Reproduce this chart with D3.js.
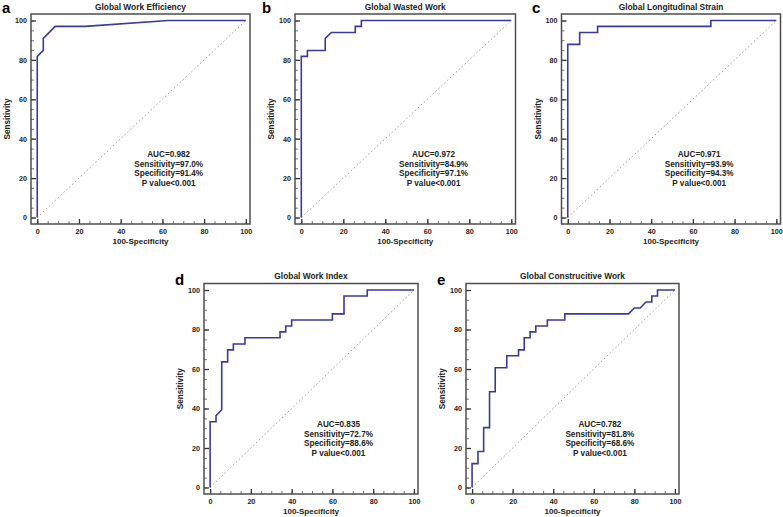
<!DOCTYPE html>
<html><head><meta charset="utf-8">
<script src="https://cdn.jsdelivr.net/npm/d3@7"></script>
<style>
html,body{margin:0;padding:0;background:#fff;}
svg{display:block;font-family:"Liberation Sans",Arial,sans-serif;}
</style></head>
<body>
<svg id="chart" width="783" height="517"></svg>
<script>
// ---- data ----
const panelLetters = ["a","b","c","d","e"];
const panelTitles = ["Global Work Efficiency","Global Wasted Work","Global Longitudinal Strain","Global Work Index","Global Construcitive Work"];
const aucTexts = ["AUC=0.982","AUC=0.972","AUC=0.971","AUC=0.835","AUC=0.782"];
const sensTexts = ["Sensitivity=97.0%","Sensitivity=84.9%","Sensitivity=93.9%","Sensitivity=72.7%","Sensitivity=81.8%"];
const specTexts = ["Specificity=91.4%","Specificity=97.1%","Specificity=94.3%","Specificity=88.6%","Specificity=68.6%"];
const pTexts = ["P value<0.001","P value<0.001","P value<0.001","P value<0.001","P value<0.001"];
const xTicks = [0,20,40,60,80,100];
const yTicks = [0,20,40,60,80,100];
const xLabel = "100-Specificity";
const yLabel = "Sensitivity";

const gweX = [0,0,2.9,2.9,8.6,22.9,62.9,100];
const gweY = [0,81.8,84.8,90.9,97.0,97.0,100,100];
const gwwX = [0,0,2.9,2.9,11.4,11.4,14.3,25.7,25.7,28.6,28.6,100];
const gwwY = [0,81.8,81.8,84.8,84.8,90.9,93.9,93.9,97.0,97.0,100,100];
const glsX = [0,0,5.7,5.7,14.3,14.3,68.6,68.6,100];
const glsY = [0,87.9,87.9,93.9,93.9,97.0,97.0,100,100];
const gwiX = [0,0,2.9,2.9,5.7,5.7,8.6,8.6,11.4,11.4,17.1,17.1,34.3,34.3,37.1,37.1,40,40,60,60,65.7,65.7,77.1,77.1,100];
const gwiY = [0,33.3,33.3,36.4,39.4,63.6,63.6,69.7,69.7,72.7,72.7,75.8,75.8,78.8,78.8,81.8,81.8,84.8,84.8,87.9,87.9,97.0,97.0,100,100];
const gcwX = [0,0,2.9,2.9,5.7,5.7,8.6,8.6,11.4,11.4,17.1,17.1,22.9,22.9,25.7,25.7,28.6,28.6,31.4,31.4,37.1,37.1,45.7,45.7,77.1,80,82.9,85.7,88.6,88.6,91.4,91.4,100];
const gcwY = [0,12.1,12.1,18.2,18.2,30.3,30.3,48.5,48.5,60.6,60.6,66.7,66.7,69.7,69.7,75.8,75.8,78.8,78.8,81.8,81.8,84.8,84.8,87.9,87.9,90.9,90.9,93.9,93.9,97.0,97.0,100,100];
const curvesX = [gweX,gwwX,glsX,gwiX,gcwX];
const curvesY = [gweY,gwwY,glsY,gwiY,gcwY];

// ---- layout ----
const frames = [
  {x:31,  y:14,    w:219,   h:210},
  {x:295, y:14,    w:220.5, h:210},
  {x:561.5,y:14,   w:219,   h:210},
  {x:204, y:283.5, w:214,   h:210.5},
  {x:466, y:283.5, w:213,   h:210.5}
];
const xDom = [-3,102], yDom = [-3.3,103.3];
const curveColor = "#3a3a9c";
const frameColor = "#4d4d4d";

const svg = d3.select("#chart");

frames.forEach((f,i)=>{
  const g = svg.append("g");
  const x = d3.scaleLinear().domain(xDom).range([f.x, f.x+f.w]);
  const y = d3.scaleLinear().domain(yDom).range([f.y+f.h, f.y]);

  // diagonal reference
  g.append("line")
    .attr("x1",x(0)).attr("y1",y(0)).attr("x2",x(100)).attr("y2",y(100))
    .attr("stroke","#8c8c8c").attr("stroke-width",0.9).attr("stroke-dasharray","1.5,2.5");

  // ROC curve
  const pts = curvesX[i].map((v,k)=>[v,curvesY[i][k]]);
  g.append("path").datum(pts)
    .attr("d", d3.line().x(d=>x(d[0])).y(d=>y(d[1])))
    .attr("fill","none").attr("stroke",curveColor).attr("stroke-width",1.6)
    .attr("stroke-linejoin","miter");

  // minor ticks
  const minor = d3.range(0,101,5);
  const gxm = g.append("g").attr("transform",`translate(0,${f.y+f.h})`)
    .call(d3.axisBottom(x).tickValues(minor).tickSize(-3).tickFormat(""));
  const gym = g.append("g").attr("transform",`translate(${f.x},0)`)
    .call(d3.axisLeft(y).tickValues(minor).tickSize(-3).tickFormat(""));
  [gxm,gym].forEach(a=>{a.select(".domain").remove(); a.selectAll("line").attr("stroke","#666").attr("stroke-width",0.9);});

  // major ticks
  const gx = g.append("g").attr("transform",`translate(0,${f.y+f.h})`)
    .call(d3.axisBottom(x).tickValues(xTicks).tickSize(-5).tickPadding(4).tickFormat(d3.format("d")));
  const gy = g.append("g").attr("transform",`translate(${f.x},0)`)
    .call(d3.axisLeft(y).tickValues(yTicks).tickSize(-5).tickPadding(4).tickFormat(d3.format("d")));
  [gx,gy].forEach(a=>{
    a.select(".domain").remove();
    a.selectAll("line").attr("stroke","#333").attr("stroke-width",1.3);
    a.selectAll("text").attr("font-family","'Liberation Sans',Arial,sans-serif")
      .attr("font-size",7.2).attr("font-weight","bold").attr("fill","#222");
  });
  gx.selectAll("text").attr("y",5).attr("dy","0.71em");
  gy.selectAll("text").attr("x",-4);

  // frame
  g.append("rect").attr("x",f.x).attr("y",f.y).attr("width",f.w).attr("height",f.h)
    .attr("fill","none").attr("stroke",frameColor).attr("stroke-width",1.5);

  // title
  g.append("text").attr("x",f.x+f.w/2).attr("y",f.y-4.5)
    .attr("text-anchor","middle").attr("font-size",8.4).attr("font-weight","bold").attr("fill","#222")
    .text(panelTitles[i]);

  // panel letter
  const lx = [2,262,532,175,437][i];
  const ly = i < 3 ? 13 : f.y+1;
  g.append("text").attr("x",lx).attr("y",ly)
    .attr("font-size",15).attr("font-weight","bold").attr("fill","#000")
    .text(panelLetters[i]);

  // axis labels
  g.append("text").attr("x",f.x+f.w/2).attr("y",f.y+f.h+20)
    .attr("text-anchor","middle").attr("font-size",8).attr("font-weight","bold").attr("fill","#222")
    .text(xLabel);
  g.append("text").attr("transform",`translate(${f.x-21},${f.y+f.h/2}) rotate(-90)`)
    .attr("text-anchor","middle").attr("font-size",8.2).attr("font-weight","bold").attr("fill","#222")
    .text(yLabel);

  // annotation
  const lines = [aucTexts[i],sensTexts[i],specTexts[i],pTexts[i]];
  const ax = x(63), ay = y(32);
  lines.forEach((t,k)=>{
    g.append("text").attr("x",ax).attr("y",ay+k*9.5).attr("dy","0.35em")
      .attr("text-anchor","middle").attr("font-size",8.2).attr("font-weight","bold").attr("fill","#222")
      .text(t);
  });
});
</script>
</body></html>
